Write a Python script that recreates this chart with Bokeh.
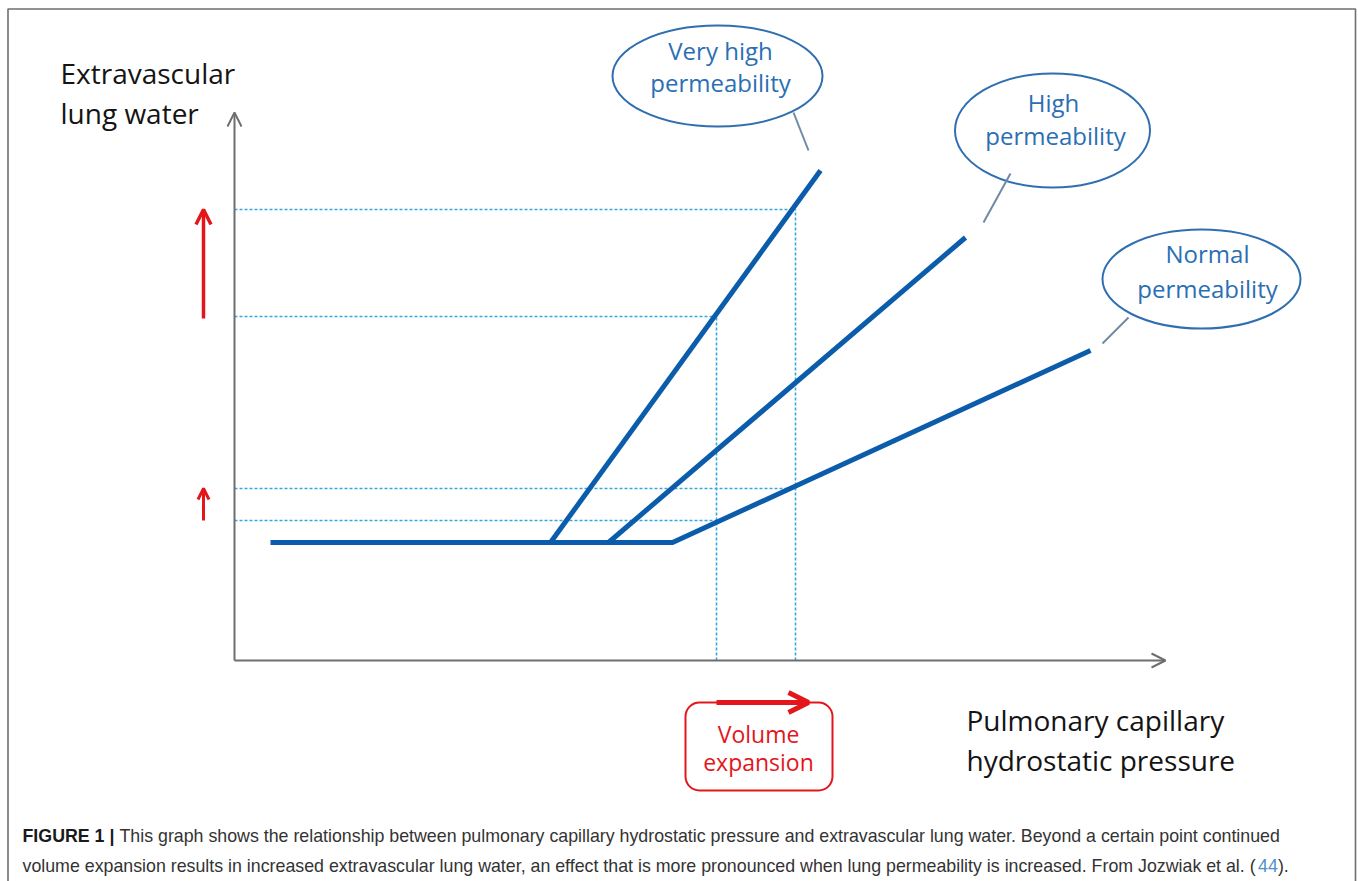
from bokeh.plotting import figure
from bokeh.models import Range1d, Arrow, OpenHead, Label, BoxAnnotation
from bokeh.embed import file_html
from bokeh.resources import INLINE

# ---------------- data (schematic chart units) ----------------
curve_names = ["Very high permeability", "High permeability", "Normal permeability"]
baseline_start_x = 3.6
baseline_y = 11.8
onset_x = [31.6, 37.4, 43.8]        # pressure where EVLW starts rising
end_x = [58.6, 73.1, 85.6]
end_y = [49.0, 42.3, 31.0]
volume_x = [48.2, 56.1]             # pressure before / after volume expansion
very_high_levels = [34.4, 45.1]     # EVLW on very-high-permeability curve at volume_x
normal_levels = [14.0, 17.2]        # EVLW on normal-permeability curve at volume_x
x_axis_end = 93.1
y_axis_end = 54.8

caption_bold = "FIGURE 1 |"
caption_line1 = "This graph shows the relationship between pulmonary capillary hydrostatic pressure and extravascular lung water. Beyond a certain point continued"
caption_line2 = "volume expansion results in increased extravascular lung water, an effect that is more pronounced when lung permeability is increased. From Jozwiak et al. ("
caption_ref = "44"
caption_end = ")."

# ---------------- styles ----------------
BLUE = "#0b5cab"
GUIDE = "#38a6da"
AXIS = "#6e6e6e"
RED = "#e3161c"
CALLOUT = "#2f6fb0"
CALLTXT = "#2b6fb2"
FONT = "Open Sans"
CAPFONT = "Liberation Sans"

W, H = 1358, 881
p = figure(width=W, height=H, x_range=Range1d(-23.4, 112.4), y_range=Range1d(-22.1, 66.0),
           output_backend="svg", toolbar_location=None, min_border=0, title=None,
           x_axis_location=None, y_axis_location=None, outline_line_color=None,
           background_fill_color="white", border_fill_color="white")
p.grid.visible = False

# card border (top, left, right)
p.add_layout(BoxAnnotation(left=-22.65, right=112.1, top=65.15, bottom=-40,
                           fill_color=None, fill_alpha=0, line_color="#6f6f6f", line_alpha=1,
                           line_width=1.6))

# dotted guide lines
gx0, gy0, gx1, gy1 = [], [], [], []
for j, vx in enumerate(volume_x):
    for lev in (very_high_levels[j], normal_levels[j]):
        gx0.append(0); gy0.append(lev); gx1.append(vx); gy1.append(lev)
    gx0.append(vx); gy0.append(0); gx1.append(vx); gy1.append(very_high_levels[j])
p.segment(gx0, gy0, gx1, gy1, line_color=GUIDE, line_width=1.6, line_dash="3 2")

# axes with open arrowheads
p.add_layout(Arrow(x_start=0, y_start=0, x_end=0, y_end=y_axis_end, line_color=AXIS, line_width=2,
                   end=OpenHead(size=14, line_color=AXIS, line_width=2)))
p.add_layout(Arrow(x_start=0, y_start=0, x_end=x_axis_end, y_end=0, line_color=AXIS, line_width=2,
                   end=OpenHead(size=14, line_color=AXIS, line_width=2)))

# curves
p.line([baseline_start_x, onset_x[2], end_x[2]], [baseline_y, baseline_y, end_y[2]],
       line_color=BLUE, line_width=5, line_join="miter")
for i in range(2):
    p.line([onset_x[i], end_x[i]], [baseline_y, end_y[i]], line_color=BLUE, line_width=5)

# red arrows (EVLW increase)
p.add_layout(Arrow(x_start=-3.1, y_start=very_high_levels[0] - 0.2, x_end=-3.1, y_end=very_high_levels[1],
                   line_color=RED, line_width=3.5, end=OpenHead(size=15, line_color=RED, line_width=3.5)))
p.add_layout(Arrow(x_start=-3.1, y_start=normal_levels[0], x_end=-3.1, y_end=normal_levels[1],
                   line_color=RED, line_width=3, end=OpenHead(size=11, line_color=RED, line_width=3)))

# callouts
p.ellipse([48.3, 81.8, 96.7], [58.45, 53.0, 38.15], width=[21.0, 19.5, 19.8], height=[10.1, 11.4, 9.9],
          fill_color=None, line_color=CALLOUT, line_width=2)
p.segment([55.9, 77.6, 89.4], [54.8, 48.7, 34.3], [57.4, 74.9, 86.8], [51.0, 43.8, 31.7],
          line_color="#7089a6", line_width=2)

def lab(x, y, text, size, color, align="left", font=FONT, style="normal"):
    p.add_layout(Label(x=x, y=y, text=text, text_font=font, text_font_size=size,
                       text_color=color, text_align=align, text_baseline="alphabetic",
                       text_font_style=style))

lab(48.6, 61.0, "Very high", "24px", CALLTXT, "center")
lab(48.6, 57.8, "permeability", "24px", CALLTXT, "center")
lab(81.9, 55.8, "High", "24px", CALLTXT, "center")
lab(82.1, 52.5, "permeability", "24px", CALLTXT, "center")
lab(97.3, 40.7, "Normal", "24px", CALLTXT, "center")
lab(97.3, 37.2, "permeability", "24px", CALLTXT, "center")

# axis titles
lab(-17.4, 58.8, "Extravascular", "28px", "#141414")
lab(-17.4, 54.8, "lung water", "28px", "#141414")
lab(73.2, -5.9, "Pulmonary capillary", "28px", "#141414")
lab(73.2, -9.9, "hydrostatic pressure", "28px", "#141414")

# volume expansion box
p.add_layout(BoxAnnotation(left=45.1, right=59.8, top=-4.2, bottom=-13.0, border_radius=14,
                           fill_color=None, fill_alpha=0, line_color=RED, line_alpha=1, line_width=2))
p.add_layout(Arrow(x_start=volume_x[0], y_start=-4.2, x_end=57.4, y_end=-4.2, line_color=RED,
                   line_width=5, end=OpenHead(size=20, line_color=RED, line_width=5)))
lab(52.4, -7.3, "Volume", "23px", RED, "center")
lab(52.4, -10.1, "expansion", "23px", RED, "center")

# caption (Arial/Helvetica metrics to place segments)
NW = {' ': 278, '.': 278, ',': 278, '(': 333, ')': 333, '|': 260, '-': 333,
      'a': 556, 'b': 556, 'c': 500, 'd': 556, 'e': 556, 'f': 278, 'g': 556, 'h': 556, 'i': 222,
      'j': 222, 'k': 500, 'l': 222, 'm': 833, 'n': 556, 'o': 556, 'p': 556, 'q': 556, 'r': 333,
      's': 500, 't': 278, 'u': 556, 'v': 500, 'w': 722, 'x': 500, 'y': 500, 'z': 500,
      'T': 611, 'B': 667, 'J': 500, 'F': 611, 'I': 278, 'G': 778, 'U': 722, 'R': 722, 'E': 667}
BW = {' ': 278, '|': 280, 'F': 611, 'I': 278, 'G': 778, 'U': 722, 'R': 722, 'E': 667}

def em(s, table):
    return sum(table.get(c, 556) for c in s) / 1000.0

target_px = 1262.0
fs = target_px / (em(caption_bold, BW) + em(" " + caption_line1, NW))
fs = round(fs, 1)
FS = f"{fs}px"
cx0 = -21.2
y1, y2 = -17.5, -20.5
lab(cx0, y1, caption_bold, FS, "#1a1a1a", font=CAPFONT, style="bold")
lab(cx0 + (em(caption_bold, BW) + em(" ", NW)) * fs / 10, y1, caption_line1, FS, "#333333", font=CAPFONT)
lab(cx0, y2, caption_line2, FS, "#333333", font=CAPFONT)
off = cx0 + em(caption_line2, NW) * fs / 10
lab(off, y2, caption_ref, FS, "#4f8fcf", font=CAPFONT)
lab(off + em(caption_ref, NW) * fs / 10, y2, caption_end, FS, "#333333", font=CAPFONT)

open("out.html", "w").write(file_html(p, INLINE))
